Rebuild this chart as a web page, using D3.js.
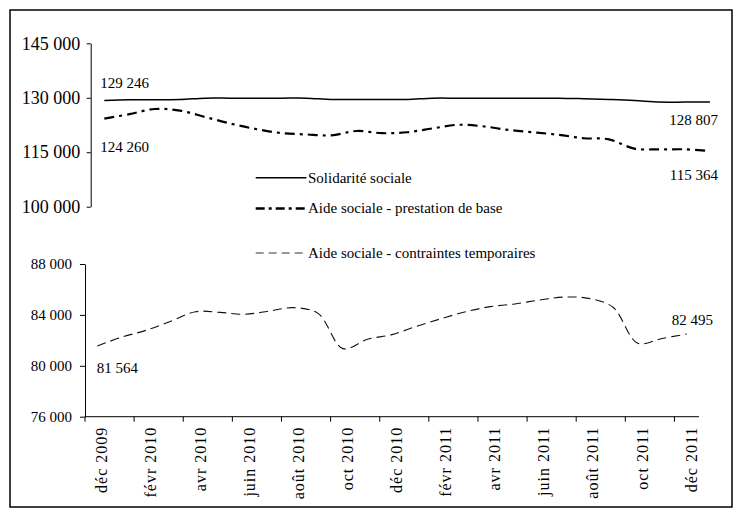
<!DOCTYPE html>
<html>
<head>
<meta charset="utf-8">
<script src="https://cdn.jsdelivr.net/npm/d3@7"></script>
<style>
  html, body { margin: 0; padding: 0; background: #fff; }
  svg { display: block; }
</style>
</head>
<body>
<svg id="chart" width="738" height="510" style="font-family: 'Liberation Serif', 'DejaVu Serif', serif;"></svg>
<script>
const months = ["déc 2009","janv 2010","févr 2010","mars 2010","avr 2010","mai 2010","juin 2010","juil 2010","août 2010","sept 2010","oct 2010","nov 2010","déc 2010","janv 2011","févr 2011","mars 2011","avr 2011","mai 2011","juin 2011","juil 2011","août 2011","sept 2011","oct 2011","nov 2011","déc 2011"];
const solidarite = [129246,129460,129460,129500,129900,129900,129900,129900,129900,129540,129540,129540,129540,129880,129880,129880,129880,129880,129880,129730,129540,129270,128800,128800,128807];
const prestation = [124260,125500,126900,126450,124700,122900,121400,120300,119900,119650,120850,120250,120500,121550,122550,122150,121150,120500,119800,118850,118550,116000,115800,115800,115364];
const contraintes = [81564,82250,82800,83500,84250,84200,84050,84300,84570,84100,81350,82080,82450,83100,83700,84250,84650,84860,85170,85400,85300,84600,81780,82150,82495];
const seriesNames = ["Solidarité sociale","Aide sociale - prestation de base","Aide sociale - contraintes temporaires"];
const topTicks = [100000,115000,130000,145000];
const bottomTicks = [76000,80000,84000,88000];
const xLabelMonths = months.filter((m,i) => i % 2 === 0);

const FONT = "'Liberation Serif', 'DejaVu Serif', serif";
const svg = d3.select("#chart");
const fr = d3.formatLocale({decimal: ",", thousands: " ", grouping: [3], currency: ["", " €"]});
const fmt = fr.format(",d");

// frame
svg.append("rect").attr("x",10).attr("y",10).attr("width",722).attr("height",497)
  .attr("fill","#fff").attr("stroke","#000").attr("stroke-width",1.5);

// ---------- top panel ----------
const xTop = d3.scalePoint().domain(months).range([91.7, 722.6]).padding(0.5);
const yTop = d3.scaleLinear().domain([100000,145000]).range([206.7, 43.3]);

const gTopAxis = svg.append("g").attr("transform","translate(90.7,0)")
  .call(d3.axisLeft(yTop).tickValues(topTicks).tickSize(4).tickSizeOuter(0).tickPadding(6.5).tickFormat(fmt));
gTopAxis.attr("font-family", FONT);
gTopAxis.selectAll("text").style("font-size","18px").attr("fill","#000");
gTopAxis.selectAll("line,path").attr("stroke","#000");

const curve = d3.curveCatmullRom.alpha(0.5);
const lineTop = d3.line().x((d,i) => xTop(months[i])).y(d => yTop(d)).curve(curve);

svg.append("path").datum(solidarite).attr("d", lineTop)
  .attr("fill","none").attr("stroke","#000").attr("stroke-width",1.5);
svg.append("path").datum(prestation).attr("d", lineTop)
  .attr("fill","none").attr("stroke","#000").attr("stroke-width",2.2)
  .attr("stroke-dasharray","10,5,3,5");

// data labels top
const n = months.length - 1;
svg.append("text").attr("x", xTop(months[0]) - 4).attr("y", yTop(solidarite[0]) - 12.5)
  .style("font-size","15px").text(fmt(solidarite[0]));
svg.append("text").attr("x", xTop(months[0]) - 4).attr("y", yTop(prestation[0]) + 33)
  .style("font-size","15px").text(fmt(prestation[0]));
svg.append("text").attr("x", xTop(months[n]) + 8).attr("y", yTop(solidarite[n]) + 23)
  .attr("text-anchor","end").style("font-size","15px").text(fmt(solidarite[n]));
svg.append("text").attr("x", xTop(months[n]) + 8).attr("y", yTop(prestation[n]) + 29)
  .attr("text-anchor","end").style("font-size","15px").text(fmt(prestation[n]));

// legend
const legendRows = [
  {name: seriesNames[0], y: 177.7, width: 1.5, dash: null, color: "#000"},
  {name: seriesNames[1], y: 208.5, width: 2.5, dash: "9,4,3,4", color: "#000"},
  {name: seriesNames[2], y: 253, width: 1, dash: "8,5", color: "#333"}
];
const lg = svg.append("g");
legendRows.forEach(r => {
  lg.append("line").attr("x1",255.7).attr("x2",306.5).attr("y1",r.y).attr("y2",r.y)
    .attr("stroke",r.color).attr("stroke-width",r.width).attr("stroke-dasharray",r.dash);
  lg.append("text").attr("x",308).attr("y",r.y).attr("dy","0.32em")
    .style("font-size","15px").text(r.name);
});

// ---------- bottom panel ----------
const xBand = d3.scaleBand().domain(months).range([85, 699]).padding(0);
const xBot = d3.scalePoint().domain(months).range([85, 699]).padding(0.5);
const yBot = d3.scaleLinear().domain([76000,88000]).range([416.7, 264]);

const gBotAxis = svg.append("g").attr("transform","translate(85,0)")
  .call(d3.axisLeft(yBot).tickValues(bottomTicks).tickSize(5).tickSizeOuter(0).tickPadding(8).tickFormat(fmt));
gBotAxis.attr("font-family", FONT);
gBotAxis.selectAll("text").style("font-size","15px").attr("fill","#000");
gBotAxis.selectAll("line,path").attr("stroke","#000");

// x axis
const gx = svg.append("g");
gx.append("line").attr("x1",xBand.range()[0]).attr("x2",xBand.range()[1])
  .attr("y1",yBot(76000)).attr("y2",yBot(76000)).attr("stroke","#000");
xLabelMonths.forEach(m => {
  const bx = xBand(m);
  gx.append("line").attr("x1",bx).attr("x2",bx).attr("y1",yBot(76000)).attr("y2",yBot(76000)+5)
    .attr("stroke","#000");
  const cx = xBot(m) + 10;
  const ty = yBot(76000) + 10;
  gx.append("text").attr("transform",`translate(${cx},${ty}) rotate(-90)`)
    .attr("text-anchor","end").style("font-size","16px").style("letter-spacing","1px").text(m);
});

const lineBot = d3.line().x((d,i) => xBot(months[i])).y(d => yBot(d)).curve(curve);
svg.append("path").datum(contraintes).attr("d", lineBot)
  .attr("fill","none").attr("stroke","#111").attr("stroke-width",1.1)
  .attr("stroke-dasharray","9,5");

svg.append("text").attr("x", xBot(months[0]) - 0.6).attr("y", yBot(contraintes[0]) + 27)
  .style("font-size","15px").text(fmt(contraintes[0]));
svg.append("text").attr("x", xBot(months[n]) - 15).attr("y", yBot(contraintes[n]) - 9)
  .style("font-size","15px").text(fmt(contraintes[n]));

svg.selectAll("text").style("font-family", FONT).attr("fill", "#000");
</script>
</body>
</html>
